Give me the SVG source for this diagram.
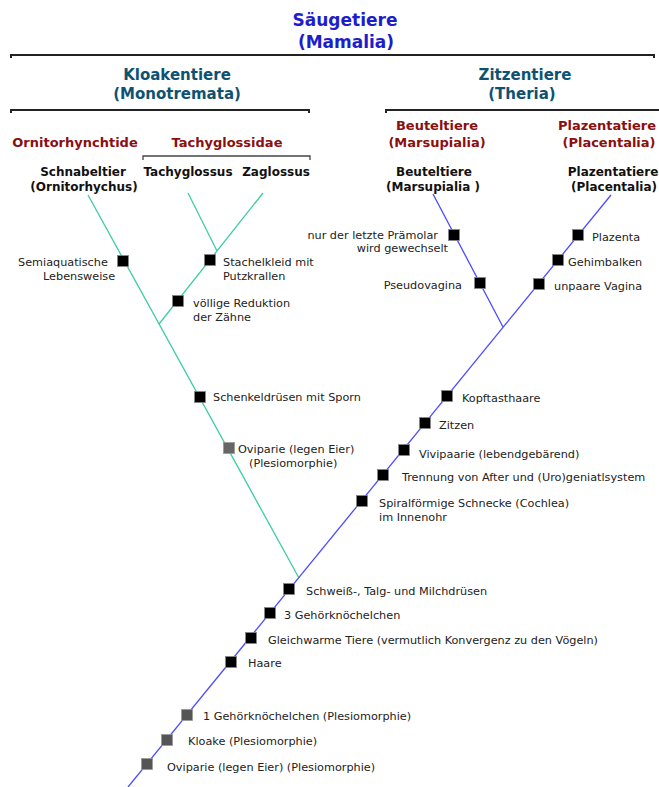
<svg xmlns="http://www.w3.org/2000/svg" width="659" height="787" viewBox="0 0 659 787">
<style>
text{font-family:"DejaVu Sans","Liberation Sans",sans-serif}
.title{font-size:17px;font-weight:bold;fill:#1d1dcc;text-anchor:middle}
.h2{font-size:15px;font-weight:bold;fill:#0e5272;text-anchor:middle}
.h3{font-size:13px;font-weight:bold;fill:#8b0f0f;text-anchor:middle}
.tx{font-size:12px;font-weight:bold;fill:#111;text-anchor:middle}
.lb{font-size:11.25px;fill:#222}
.br{fill:none;stroke:#222;stroke-width:2}
.br2{fill:none;stroke:#444;stroke-width:1.3}
.g{stroke:#3ccca3;stroke-width:1.3;fill:none}
.b{stroke:#4b4bff;stroke-width:1.3;fill:none}
.m{fill:#000;stroke:#888;stroke-width:0.8}
.p{fill:#555;stroke:#999;stroke-width:0.8}
.pg{fill:#666;stroke:#999;stroke-width:0.8}
</style>
<defs>
<rect id="sq" x="-5.5" y="-5.5" width="11" height="11"/>
</defs>

<g id="headers">
<g id="mammalia">
<text class="title" x="345" y="26">Säugetiere</text>
<text class="title" x="346" y="48">(Mamalia)</text>
<path class="br" d="M11,58 V55 H654 V58"/>
</g>
<g id="monotremata">
<text class="h2" x="177" y="80">Kloakentiere</text>
<text class="h2" x="177" y="99">(Monotremata)</text>
<path class="br" d="M11,113 V110 H309 V113"/>
</g>
<g id="theria">
<text class="h2" x="525" y="80">Zitzentiere</text>
<text class="h2" x="522" y="99">(Theria)</text>
<path class="br" d="M386,113 V110 H659"/>
</g>
<g id="ornitorhynchtide">
<text class="h3" x="75" y="147">Ornitorhynchtide</text>
</g>
<g id="tachyglossidae">
<text class="h3" x="227" y="147">Tachyglossidae</text>
<path class="br2" d="M143,160 V156 H310 V160"/>
</g>
<g id="marsupialia-group">
<text class="h3" x="437" y="130">Beuteltiere</text>
<text class="h3" x="437" y="147">(Marsupialia)</text>
</g>
<g id="placentalia-group">
<text class="h3" x="607" y="130">Plazentatiere</text>
<text class="h3" x="609" y="147">(Placentalia)</text>
</g>
</g>

<g id="taxa">
<g id="schnabeltier">
<text class="tx" x="83" y="176">Schnabeltier</text>
<text class="tx" x="84" y="191">(Ornitorhychus)</text>
</g>
<g id="tachyglossus"><text class="tx" x="188" y="176">Tachyglossus</text></g>
<g id="zaglossus"><text class="tx" x="276" y="176">Zaglossus</text></g>
<g id="beuteltiere">
<text class="tx" x="434" y="176">Beuteltiere</text>
<text class="tx" x="433" y="191">(Marsupialia )</text>
</g>
<g id="plazentatiere">
<text class="tx" x="613" y="176">Plazentatiere</text>
<text class="tx" x="614" y="191">(Placentalia)</text>
</g>
</g>

<g id="connectors">
<line class="g" x1="88" y1="195" x2="299" y2="578"/>
<line class="g" x1="263" y1="193" x2="159" y2="324"/>
<line class="g" x1="188" y1="193" x2="217" y2="251"/>
<line class="b" x1="128" y1="787" x2="611" y2="195"/>
<line class="b" x1="433" y1="194" x2="503" y2="327"/>
</g>

<g id="characters">
<g id="c-semiaquatisch"><use href="#sq" class="m" x="123" y="261"/>
<text class="lb" x="18" y="266">Semiaquatische</text><text class="lb" x="43" y="280">Lebensweise</text></g>
<g id="c-stachelkleid"><use href="#sq" class="m" x="210" y="260"/>
<text class="lb" x="223" y="266">Stachelkleid mit</text><text class="lb" x="223" y="280">Putzkrallen</text></g>
<g id="c-zaehne"><use href="#sq" class="m" x="178" y="301"/>
<text class="lb" x="193" y="307">völlige Reduktion</text><text class="lb" x="193" y="321">der Zähne</text></g>
<g id="c-schenkel"><use href="#sq" class="m" x="200" y="397"/>
<text class="lb" x="213" y="401">Schenkeldrüsen mit Sporn</text></g>
<g id="c-ovi-mono"><use href="#sq" class="pg" x="229" y="448"/>
<text class="lb" x="238" y="453">Oviparie (legen Eier)</text><text class="lb" x="249" y="467">(Plesiomorphie)</text></g>

<g id="c-praemolar"><use href="#sq" class="m" x="454" y="235"/>
<text class="lb" x="438" y="239" text-anchor="end">nur der letzte Prämolar</text><text class="lb" x="448" y="252" text-anchor="end">wird gewechselt</text></g>
<g id="c-pseudovagina"><use href="#sq" class="m" x="480" y="283"/>
<text class="lb" x="462" y="289" text-anchor="end">Pseudovagina</text></g>
<g id="c-plazenta"><use href="#sq" class="m" x="578" y="235"/>
<text class="lb" x="592" y="241">Plazenta</text></g>
<g id="c-gehirnbalken"><use href="#sq" class="m" x="558" y="260"/>
<text class="lb" x="568" y="266">Gehimbalken</text></g>
<g id="c-vagina"><use href="#sq" class="m" x="539" y="284"/>
<text class="lb" x="554" y="290">unpaare Vagina</text></g>

<g id="c-kopftast"><use href="#sq" class="m" x="447" y="396"/>
<text class="lb" x="462" y="402">Kopftasthaare</text></g>
<g id="c-zitzen"><use href="#sq" class="m" x="425" y="423"/>
<text class="lb" x="439" y="429">Zitzen</text></g>
<g id="c-vivi"><use href="#sq" class="m" x="404" y="450"/>
<text class="lb" x="419" y="458">Vivipaarie (lebendgebärend)</text></g>
<g id="c-trennung"><use href="#sq" class="m" x="383" y="475"/>
<text class="lb" x="402" y="481">Trennung von After und (Uro)geniatlsystem</text></g>
<g id="c-cochlea"><use href="#sq" class="m" x="362" y="501"/>
<text class="lb" x="379" y="507">Spiralförmige Schnecke (Cochlea)</text><text class="lb" x="379" y="521">im Innenohr</text></g>

<g id="c-druesen"><use href="#sq" class="m" x="289" y="589"/>
<text class="lb" x="306" y="595">Schweiß-, Talg- und Milchdrüsen</text></g>
<g id="c-3gehoer"><use href="#sq" class="m" x="270" y="613"/>
<text class="lb" x="284" y="619">3 Gehörknöchelchen</text></g>
<g id="c-gleichwarm"><use href="#sq" class="m" x="251" y="638"/>
<text class="lb" x="268" y="644">Gleichwarme Tiere (vermutlich Konvergenz zu den Vögeln)</text></g>
<g id="c-haare"><use href="#sq" class="m" x="231" y="662"/>
<text class="lb" x="248" y="667">Haare</text></g>
<g id="c-1gehoer"><use href="#sq" class="p" x="187" y="715"/>
<text class="lb" x="203" y="720">1 Gehörknöchelchen (Plesiomorphie)</text></g>
<g id="c-kloake"><use href="#sq" class="p" x="167" y="740"/>
<text class="lb" x="188" y="745">Kloake (Plesiomorphie)</text></g>
<g id="c-ovi-base"><use href="#sq" class="p" x="147" y="764"/>
<text class="lb" x="167" y="771">Oviparie (legen Eier) (Plesiomorphie)</text></g>
</g>
</svg>
